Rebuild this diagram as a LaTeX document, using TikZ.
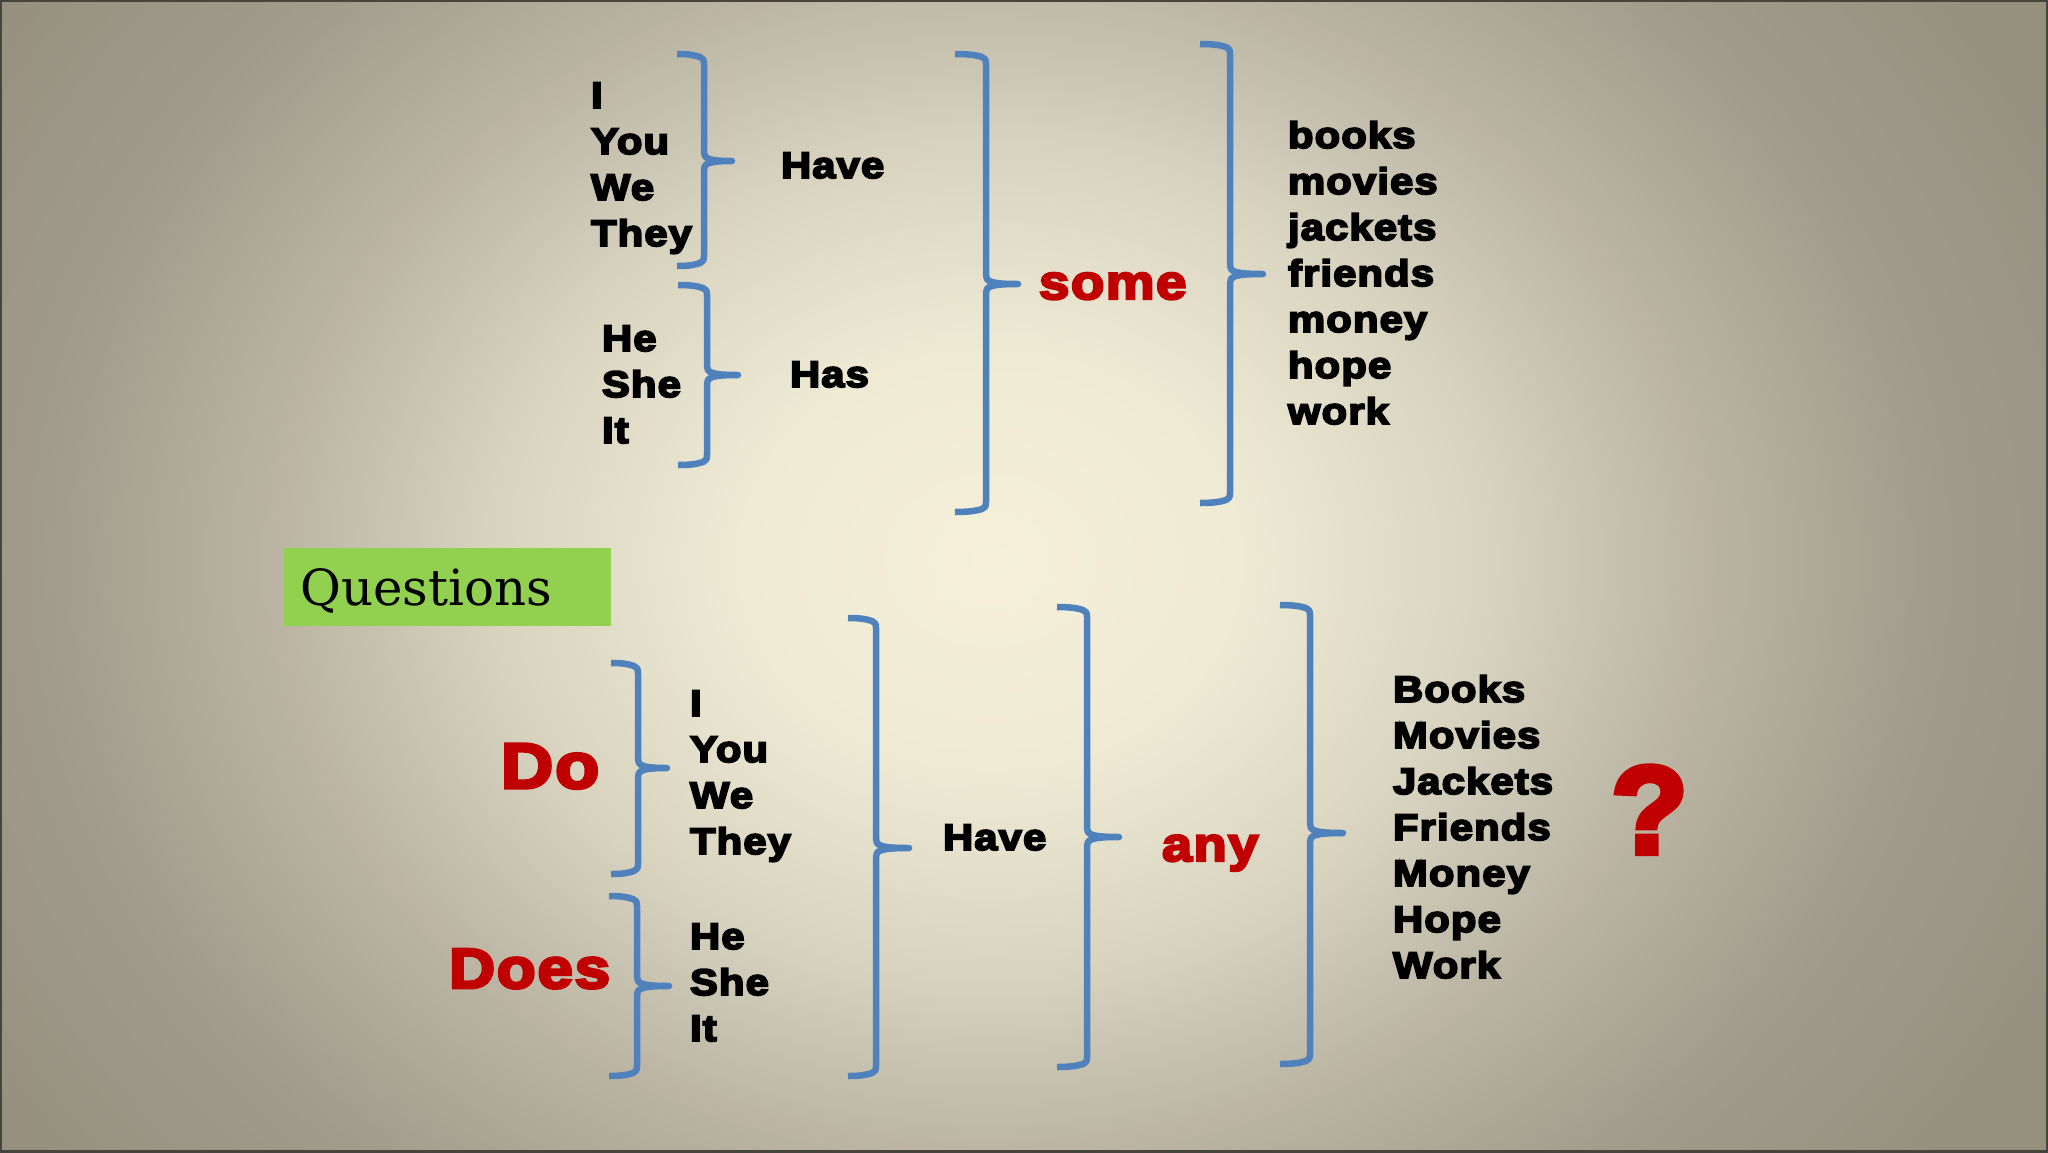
\documentclass[tikz,border=0pt]{standalone}
\usepackage{fontspec}
\newfontfamily\blk{Liberation Sans}[UprightFont=* Bold,FakeBold=5,FakeStretch=1.13,LetterSpace=3]
\newfontfamily\serifq{DejaVu Serif}
\definecolor{cA}{HTML}{F6F0DA}
\definecolor{cB}{HTML}{EFEAD4}
\definecolor{cC}{HTML}{D8D3BF}
\definecolor{cD}{HTML}{C4BFAD}
\definecolor{cF}{HTML}{BDB6A4}
\definecolor{cG}{HTML}{A09B8B}
\definecolor{cE}{HTML}{96917F}
\pgfdeclareradialshading{slidebg}{\pgfpoint{0bp}{0bp}}{
  color(0bp)=(cA); color(5bp)=(cB); color(10bp)=(cC); color(12.8bp)=(cD); color(14bp)=(cF); color(19bp)=(cG); color(23.7bp)=(cE); color(50bp)=(cE)}
\definecolor{bracecol}{HTML}{4F81BD}
\definecolor{redtxt}{HTML}{C00000}
\definecolor{qgreen}{HTML}{92D050}
\definecolor{framecol}{HTML}{45453E}
\tikzset{
  x=1pt,y=-1pt,
  word/.style={anchor=base west,inner sep=0pt,outer sep=0pt,text=black,font=\blk\fontsize{37}{46}\selectfont},
  redword/.style={word,text=redtxt},
  bracepath/.style={draw=bracecol,line width=6.5pt,line join=round,line cap=butt},
}
\newcommand{\cbr}[6]{%
  \draw[bracepath] (#1,#3) .. controls ({#1+12},#3) and ({#2-10},{#3+1}) .. ({#2-4},{#3+3})
    .. controls ({#2-1},{#3+4}) and (#2,{#3+6}) .. (#2,{#3+10})
    -- (#2,{#4-9}) .. controls (#2,{#4-3}) and ({#2+3},#4) .. (#6,#4)
    .. controls ({#2+3},#4) and (#2,{#4+3}) .. (#2,{#4+9})
    -- (#2,{#5-10}) .. controls (#2,{#5-6}) and ({#2-1},{#5-4}) .. ({#2-4},{#5-3})
    .. controls ({#2-10},{#5-1}) and ({#1+12},#5) .. (#1,#5);}
\begin{document}
\begin{tikzpicture}
\useasboundingbox (0,0) rectangle (2048,1152);
\begin{scope}
  \clip (0,0) rectangle (2048,1152);
  \path[shading=slidebg] (-260,-480) rectangle (2240,1600);
\end{scope}
\draw[framecol,line width=4pt] (0,0) rectangle (2048,1152);

% first statement block
\foreach \w [count=\i] in {I,You,We,They}
  \node[word] (a\i) at (591,{108+46*(\i-1)}) {\w};
\foreach \w [count=\i] in {He,She,It}
  \node[word] (b\i) at (602,{351+46*(\i-1)}) {\w};
\node[word] (have1) at (781,178) {Have};
\node[word] (has1) at (790,387) {Has};
\node[redword,font=\blk\fontsize{48.5}{50}\selectfont] (some) at (1039,299) {some};
\foreach \w [count=\i] in {books,movies,jackets,friends,money,hope,work}
  \node[word] (c\i) at (1288,{148+46*(\i-1)}) {\w};

\cbr{677}{704}{54}{161}{266}{732}
\cbr{678}{707}{285}{375}{465}{738}
\cbr{955}{986}{54}{284}{512}{1018}
\cbr{1200}{1230}{44}{274}{503}{1263}

% questions label
\node[fill=qgreen,minimum width=327pt,minimum height=78pt,inner sep=0pt,anchor=north west] (qbox) at (284,548) {};
\node[anchor=base west,inner sep=0pt,font=\serifq\fontsize{49.8}{54}\selectfont] (qtext) at (300,605) {Questions};

% question block
\node[redword,font=\blk\fontsize{64}{70}\selectfont] (do) at (501,788) {Do};
\node[redword,font=\blk\fontsize{56.5}{60}\selectfont] (does) at (449,988) {Does};
\foreach \w [count=\i] in {I,You,We,They}
  \node[word] (d\i) at (690,{716+46*(\i-1)}) {\w};
\foreach \w [count=\i] in {He,She,It}
  \node[word] (e\i) at (690,{949+46*(\i-1)}) {\w};
\node[word] (have2) at (943,850) {Have};
\node[redword,font=\blk\fontsize{48}{50}\selectfont] (any) at (1162,861) {any};
\foreach \w [count=\i] in {Books,Movies,Jackets,Friends,Money,Hope,Work}
  \node[word] (f\i) at (1393,{702+46*(\i-1)}) {\w};
\node[redword,font=\blk\fontsize{124}{130}\selectfont,xscale=0.9] (qm) at (1611,853) {?};

\cbr{611}{638}{663}{768}{874}{667}
\cbr{609}{637}{896}{986}{1076}{669}
\cbr{848}{876}{618}{848}{1076}{909}
\cbr{1057}{1087}{607}{837}{1067}{1119}
\cbr{1280}{1310}{605}{833}{1064}{1343}
\end{tikzpicture}
\end{document}
